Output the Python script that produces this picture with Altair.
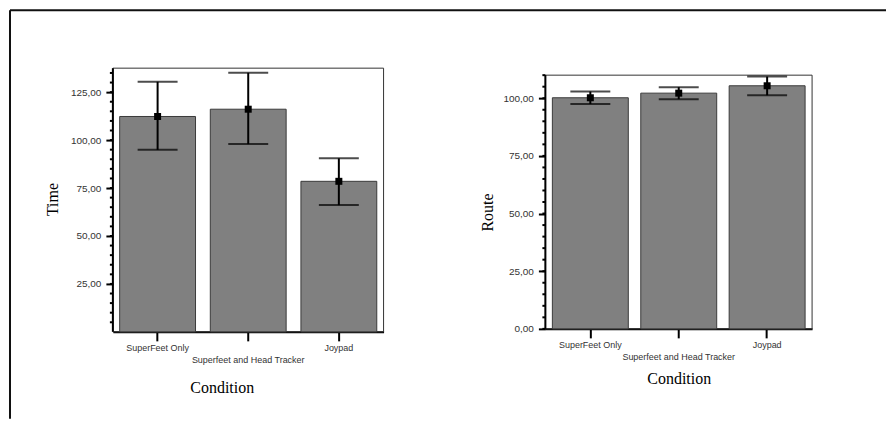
import altair as alt
import pandas as pd

# ---- data ----
categories = ["SuperFeet Only", "Superfeet and Head Tracker", "Joypad"]

time_mean = [112.3, 116.1, 78.5]
time_lo = [94.9, 97.9, 66.1]
time_hi = [130.4, 135.1, 90.5]

route_mean = [100.2, 102.2, 105.4]
route_lo = [97.5, 99.6, 101.3]
route_hi = [102.9, 104.8, 109.4]

time_ticks = [25, 50, 75, 100, 125]
route_ticks = [0, 25, 50, 75, 100]
time_minor = list(range(5, 140, 5))
route_minor = list(range(0, 115, 5))

LABEL_FONT = "Liberation Sans"
TITLE_FONT = "Liberation Serif"
NUM_EXPR = "replace(format(datum.value, '.2f'), '.', ',')"
X_LABEL_EXPR = "datum.label == 'Superfeet and Head Tracker' ? ['', datum.label] : datum.label"


def panel(mean, lo, hi, ticks, minor, top, dom_top, width, height, ytitle,
          ytitle_x, ytitle_y, xtitle_x, xtitle_y, pin, pout, outer=False):
    df = pd.DataFrame({"Condition": categories, "mean": mean, "lo": lo, "hi": hi})
    xs = alt.Scale(paddingInner=pin, paddingOuter=pout)
    ys = alt.Scale(domain=[0, dom_top], nice=False, zero=True)
    xenc = alt.X("Condition:N", sort=categories, scale=xs,
                 axis=alt.Axis(title="Condition", labelAngle=0, labelExpr=X_LABEL_EXPR,
                               labelFont=LABEL_FONT, labelFontSize=9, labelColor="#333333",
                               labelLineHeight=12, labelPadding=3,
                               tickSize=9, tickWidth=2, tickColor="black",
                               domain=True, domainColor="black", domainWidth=2,
                               titleFont=TITLE_FONT, titleFontSize=16, titleFontWeight="normal",
                               titleColor="black", titleX=xtitle_x, titleY=xtitle_y,
                               titleAlign="center", titleBaseline="middle", grid=False))
    yaxis = alt.Axis(title=ytitle, values=ticks, labelExpr=NUM_EXPR,
                     labelFont=LABEL_FONT, labelFontSize=10, labelColor="#333333",
                     labelPadding=5, tickSize=7, tickWidth=2, tickColor="black",
                     domain=False, grid=False,
                     titleFont=TITLE_FONT, titleFontSize=16, titleFontWeight="normal",
                     titleColor="black", titleX=ytitle_x, titleY=ytitle_y, titleAngle=270,
                     titleAlign="center", titleBaseline="middle")

    base = alt.Chart(df)
    bars = base.mark_bar(color="#808080", stroke="#3a3a3a", strokeWidth=1).encode(
        x=xenc, y=alt.Y("mean:Q", scale=ys, axis=yaxis))
    err = base.mark_rule(color="black", strokeWidth=2).encode(
        x=alt.X("Condition:N", sort=categories), y=alt.Y("lo:Q"), y2="hi:Q")
    cap_hi = base.mark_tick(color="black", thickness=2, size=40).encode(
        x=alt.X("Condition:N", sort=categories), y=alt.Y("hi:Q"))
    cap_lo = base.mark_tick(color="black", thickness=2, size=40).encode(
        x=alt.X("Condition:N", sort=categories), y=alt.Y("lo:Q"))
    pt = base.mark_square(color="black", size=49, opacity=1).encode(
        x=alt.X("Condition:N", sort=categories), y=alt.Y("mean:Q"))

    one = alt.Data(values=[{"a": 1}])
    frame = alt.Chart(one).mark_rect(filled=False, stroke="#333333", strokeWidth=1).encode(
        x=alt.value(0), x2=alt.value(width),
        y=alt.YDatum(top, type="quantitative"), y2=alt.Y2Datum(0))
    yline = alt.Chart(one).mark_rule(color="black", strokeWidth=2).encode(
        x=alt.value(0), y=alt.YDatum(top, type="quantitative"), y2=alt.Y2Datum(0))
    mdf = pd.DataFrame({"v": minor})
    minor_ticks = alt.Chart(mdf).mark_rule(color="black", strokeWidth=2).encode(
        x=alt.value(-3), x2=alt.value(0), y=alt.Y("v:Q"))

    layers = [frame, bars, err, cap_hi, cap_lo, pt, yline, minor_ticks]
    if outer:
        top_line = alt.Chart(one).mark_rule(color="#111111", strokeWidth=2).encode(
            x=alt.value(-103), x2=alt.value(774), y=alt.value(-58))
        left_line = alt.Chart(one).mark_rule(color="#111111", strokeWidth=2).encode(
            x=alt.value(-103), y=alt.value(-58), y2=alt.value(351))
        layers += [top_line, left_line]
    return alt.layer(*layers).properties(width=width, height=height)


left = panel(time_mean, time_lo, time_hi, time_ticks, time_minor,
             top=137.5, dom_top=137.5, width=271, height=264, ytitle="Time",
             ytitle_x=-60, ytitle_y=131, xtitle_x=109, xtitle_y=56,
             pin=0.163, pout=0.075, outer=True)
right = panel(route_mean, route_lo, route_hi, route_ticks, route_minor,
              top=110, dom_top=110 * 261 / 254, width=267, height=261, ytitle="Route",
              ytitle_x=-58, ytitle_y=144, xtitle_x=133.5, xtitle_y=50,
              pin=0.141, pout=0.079)

chart = alt.hconcat(left, right, spacing=162, bounds="flush").properties(
    padding=0, background="white"
).configure_view(stroke="transparent")

chart.save("out.html", embed_options={"renderer": "svg", "actions": False})
